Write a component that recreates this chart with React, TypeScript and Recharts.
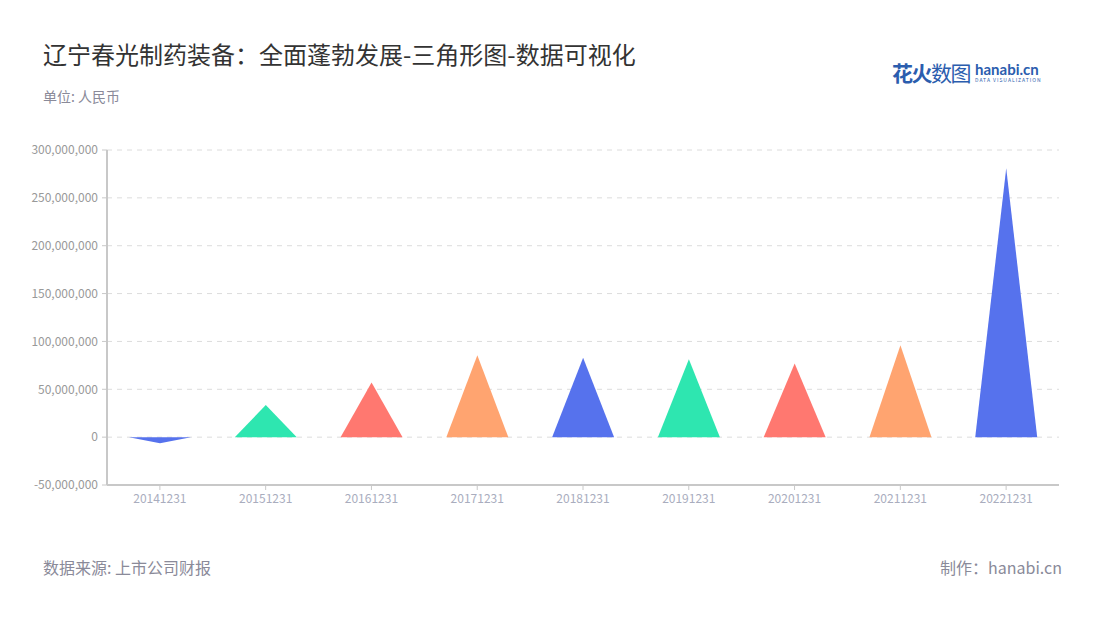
import React from 'react';
import { BarChart, Bar, XAxis, YAxis, CartesianGrid, Cell } from 'recharts';

const categories = ['20141231', '20151231', '20161231', '20171231', '20181231', '20191231', '20201231', '20211231', '20221231'];
const values = [-6500000, 33500000, 57000000, 85500000, 83000000, 81500000, 77000000, 96000000, 281000000];
const colors = ['#5672ED', '#2EE6B0', '#FF7870', '#FFA470', '#5672ED', '#2EE6B0', '#FF7870', '#FFA470', '#5672ED'];
const yTicks = [-50000000, 0, 50000000, 100000000, 150000000, 200000000, 250000000, 300000000];

const data = categories.map((c, i) => ({ name: c, value: values[i] }));

const FONT = '"Noto Sans CJK SC", "Noto Sans", sans-serif';

const Triangle = (props: any) => {
  const { x, y, width, height, fill, value } = props;
  const v = Array.isArray(value) ? value[1] - value[0] : value;
  const top = Math.min(y, y + height);
  const bottom = Math.max(y, y + height);
  const cx = x + width / 2;
  let d;
  if (v >= 0) {
    d = `M${x},${bottom} L${cx},${top} L${x + width},${bottom} Z`;
  } else {
    d = `M${x},${top} L${cx},${bottom} L${x + width},${top} Z`;
  }
  return <path d={d} fill={fill} stroke="none" />;
};

const fmt = (v: number) => v.toLocaleString('en-US');

export default function App() {
  return (
    <div style={{ position: 'absolute', left: 0, top: 0, width: 1100, height: 620, background: '#fff', fontFamily: FONT }}>
      <div style={{ position: 'absolute', left: 43, top: 36, fontSize: 24, color: '#333', whiteSpace: 'nowrap' }}>
        辽宁春光制药装备：全面蓬勃发展-三角形图-数据可视化
      </div>
      <div style={{ position: 'absolute', left: 43, top: 86, fontSize: 14, color: '#8a8a99', whiteSpace: 'nowrap' }}>
        单位: 人民币
      </div>
      <div style={{ position: 'absolute', left: 892, top: 57, whiteSpace: 'nowrap', display: 'flex', alignItems: 'center' }}>
        <span style={{ fontSize: 21, fontWeight: 700, color: '#2B5DAE', letterSpacing: -1.5 }}>花火</span>
        <span style={{ fontSize: 21, color: '#2B5DAE', letterSpacing: -1.5 }}>数图</span>
        <span style={{ display: 'inline-flex', flexDirection: 'column', marginLeft: 5, lineHeight: 1 }}>
          <span style={{ fontSize: 15, fontWeight: 700, color: '#2B5DAE', fontFamily: 'Lato, sans-serif' }}>hanabi.cn</span>
          <span style={{ fontSize: 5, color: '#2B5DAE', letterSpacing: 1 }}>DATA VISUALIZATION</span>
        </span>
      </div>
      <div style={{ position: 'absolute', left: 0, top: 0 }}>
        <BarChart width={1100} height={620} data={data} margin={{ top: 150, right: 41, bottom: 105, left: 7 }}>
          <CartesianGrid vertical={false} stroke="#dcdcdc" strokeDasharray="5 5" />
          <XAxis
            dataKey="name"
            height={30}
            stroke="#c8c8c8"
            tickSize={5}
            tickMargin={4}
            tick={{ fill: '#a9adbe', fontSize: 12, fontFamily: FONT }}
            axisLine={{ stroke: '#c8c8c8', strokeWidth: 2 }}
          />
          <YAxis
            width={100}
            domain={[-50000000, 300000000]}
            ticks={yTicks}
            interval={0}
            tickFormatter={fmt}
            stroke="#c8c8c8"
            tickSize={5}
            tickMargin={4}
            tick={{ fill: '#999999', fontSize: 12, fontFamily: FONT }}
            axisLine={{ stroke: '#c8c8c8', strokeWidth: 2 }}
          />
          <Bar dataKey="value" barSize={62} shape={<Triangle />} isAnimationActive={false}>
            {data.map((d, i) => (
              <Cell key={d.name} fill={colors[i]} />
            ))}
          </Bar>
        </BarChart>
      </div>
      <div style={{ position: 'absolute', left: 43, top: 555, fontSize: 16, color: '#8a8a99', whiteSpace: 'nowrap' }}>
        数据来源: 上市公司财报
      </div>
      <div style={{ position: 'absolute', right: 38, top: 555, fontSize: 16, color: '#8a8a99', whiteSpace: 'nowrap' }}>
        制作：hanabi.cn
      </div>
    </div>
  );
}
